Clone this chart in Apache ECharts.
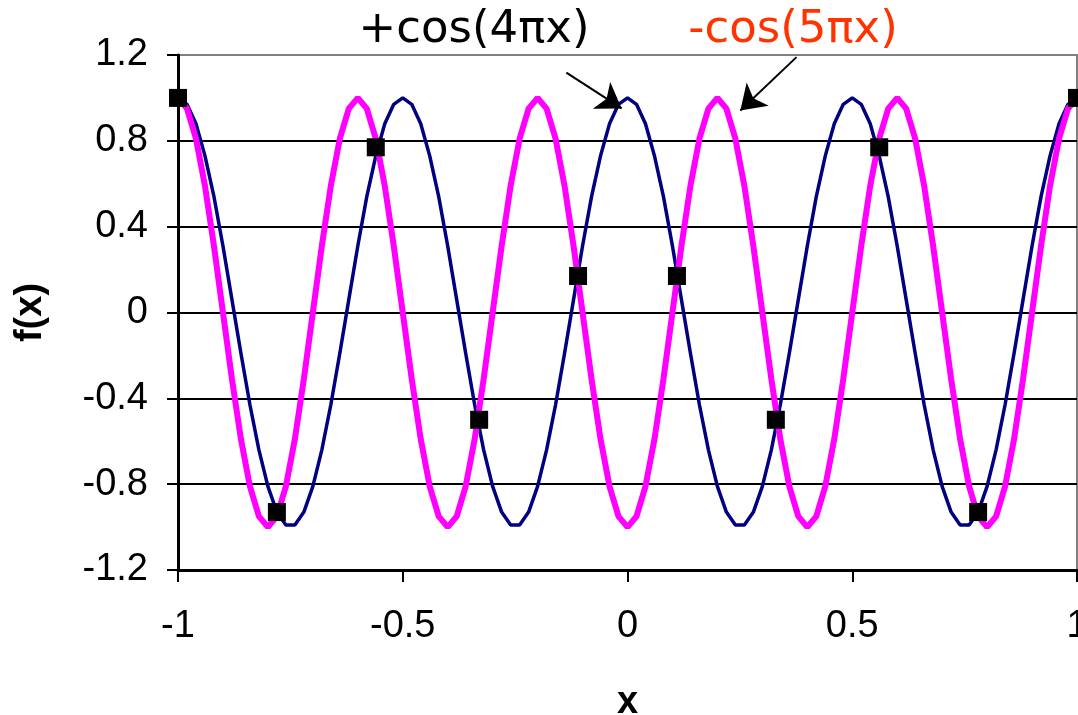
<!DOCTYPE html>
<html>
<head>
<meta charset="utf-8">
<script src="https://cdn.jsdelivr.net/npm/echarts@6/dist/echarts.min.js"></script>
<style>
  html, body { margin: 0; padding: 0; background: #fff; }
  #chart { width: 1078px; height: 715px; }
</style>
</head>
<body>
<div id="chart"></div>
<script>
// sample positions along x
const xs = [
  -1, -0.98, -0.96, -0.94, -0.92, -0.9, -0.88, -0.86, -0.84, -0.82,
  -0.8, -0.78, -0.76, -0.74, -0.72, -0.7, -0.68, -0.66, -0.64, -0.62,
  -0.6, -0.58, -0.56, -0.54, -0.52, -0.5, -0.48, -0.46, -0.44, -0.42,
  -0.4, -0.38, -0.36, -0.34, -0.32, -0.3, -0.28, -0.26, -0.24, -0.22,
  -0.2, -0.18, -0.16, -0.14, -0.12, -0.1, -0.08, -0.06, -0.04, -0.02,
  0, 0.02, 0.04, 0.06, 0.08, 0.1, 0.12, 0.14, 0.16, 0.18,
  0.2, 0.22, 0.24, 0.26, 0.28, 0.3, 0.32, 0.34, 0.36, 0.38,
  0.4, 0.42, 0.44, 0.46, 0.48, 0.5, 0.52, 0.54, 0.56, 0.58,
  0.6, 0.62, 0.64, 0.66, 0.68, 0.7, 0.72, 0.74, 0.76, 0.78,
  0.8, 0.82, 0.84, 0.86, 0.88, 0.9, 0.92, 0.94, 0.96, 0.98,
  1
];
// +cos(4πx), navy curve
const cos4Values = [
  1, 0.97, 0.88, 0.73, 0.54, 0.31, 0.06, -0.19, -0.43, -0.64,
  -0.81, -0.93, -0.99, -0.99, -0.93, -0.81, -0.64, -0.43, -0.19, 0.06,
  0.31, 0.54, 0.73, 0.88, 0.97, 1, 0.97, 0.88, 0.73, 0.54,
  0.31, 0.06, -0.19, -0.43, -0.64, -0.81, -0.93, -0.99, -0.99, -0.93,
  -0.81, -0.64, -0.43, -0.19, 0.06, 0.31, 0.54, 0.73, 0.88, 0.97,
  1, 0.97, 0.88, 0.73, 0.54, 0.31, 0.06, -0.19, -0.43, -0.64,
  -0.81, -0.93, -0.99, -0.99, -0.93, -0.81, -0.64, -0.43, -0.19, 0.06,
  0.31, 0.54, 0.73, 0.88, 0.97, 1, 0.97, 0.88, 0.73, 0.54,
  0.31, 0.06, -0.19, -0.43, -0.64, -0.81, -0.93, -0.99, -0.99, -0.93,
  -0.81, -0.64, -0.43, -0.19, 0.06, 0.31, 0.54, 0.73, 0.88, 0.97,
  1
];
// -cos(5πx), magenta curve
const cos5Values = [
  1, 0.95, 0.81, 0.59, 0.31, 0, -0.31, -0.59, -0.81, -0.95,
  -1, -0.95, -0.81, -0.59, -0.31, 0, 0.31, 0.59, 0.81, 0.95,
  1, 0.95, 0.81, 0.59, 0.31, 0, -0.31, -0.59, -0.81, -0.95,
  -1, -0.95, -0.81, -0.59, -0.31, 0, 0.31, 0.59, 0.81, 0.95,
  1, 0.95, 0.81, 0.59, 0.31, 0, -0.31, -0.59, -0.81, -0.95,
  -1, -0.95, -0.81, -0.59, -0.31, 0, 0.31, 0.59, 0.81, 0.95,
  1, 0.95, 0.81, 0.59, 0.31, 0, -0.31, -0.59, -0.81, -0.95,
  -1, -0.95, -0.81, -0.59, -0.31, 0, 0.31, 0.59, 0.81, 0.95,
  1, 0.95, 0.81, 0.59, 0.31, 0, -0.31, -0.59, -0.81, -0.95,
  -1, -0.95, -0.81, -0.59, -0.31, 0, 0.31, 0.59, 0.81, 0.95,
  1
];
// square markers where the two curves cross
const crossX = [-1, -0.78, -0.56, -0.33, -0.11, 0.11, 0.33, 0.56, 0.78, 1];
const crossY = [1, -0.93, 0.77, -0.5, 0.17, 0.17, -0.5, 0.77, -0.93, 1];
// axis ticks
const xTicks = [-1, -0.5, 0, 0.5, 1];
const yTicks = [-1.2, -0.8, -0.4, 0, 0.4, 0.8, 1.2];
// arrows: [from, to] in data units
const arrowCos4 = [[-0.136, 1.118], [-0.013, 0.951]];
const arrowCos5 = [[0.376, 1.19], [0.251, 0.941]];

const labelFont = "'Liberation Sans', Arial, sans-serif";

let myChart = echarts.init(document.getElementById('chart'));
let option = {
  animation: false,
  backgroundColor: '#fff',
  grid: {
    left: 178,
    right: 1,
    top: 55,
    bottom: 145,
    containLabel: false,
    outerBoundsMode: 'none',
    show: true,
    borderColor: '#808080',
    borderWidth: 2
  },
  xAxis: {
    type: 'value',
    min: xTicks[0],
    max: xTicks[xTicks.length - 1],
    interval: xTicks[1] - xTicks[0],
    name: 'x',
    nameLocation: 'middle',
    nameGap: 114,
    nameTextStyle: { fontFamily: labelFont, fontSize: 38, fontWeight: 'bold', color: '#000' },
    axisLine: { onZero: false, lineStyle: { color: '#000', width: 3 } },
    axisTick: { show: true, length: 12, lineStyle: { color: '#000', width: 2 } },
    axisLabel: { fontFamily: labelFont, fontSize: 38, color: '#000', margin: 38 },
    splitLine: { show: false }
  },
  yAxis: {
    type: 'value',
    min: yTicks[0],
    max: yTicks[yTicks.length - 1],
    interval: 0.4,
    name: 'f(x)',
    nameLocation: 'middle',
    nameGap: 128,
    nameTextStyle: { fontFamily: labelFont, fontSize: 38, fontWeight: 'bold', color: '#000' },
    axisLine: { onZero: false, lineStyle: { color: '#000', width: 3 } },
    axisTick: { show: true, length: 11, lineStyle: { color: '#000', width: 2 } },
    axisLabel: { fontFamily: labelFont, fontSize: 38, color: '#000', margin: 30 },
    splitLine: {
      show: true,
      lineStyle: { color: ['#000', '#000', '#000', '#000', '#000', '#000', '#808080'], width: 2 }
    }
  },
  series: [
    {
      name: '+cos(4πx)',
      type: 'line',
      data: xs.map((x, i) => [x, cos4Values[i]]),
      showSymbol: false,
      symbol: 'none',
      lineStyle: { color: '#000080', width: 3.5 },
      z: 2
    },
    {
      name: '-cos(5πx)',
      type: 'line',
      data: xs.map((x, i) => [x, cos5Values[i]]),
      showSymbol: false,
      symbol: 'none',
      lineStyle: { color: '#ff00ff', width: 6 },
      z: 3,
      markLine: {
        silent: true,
        symbol: ['none', 'arrow'],
        symbolSize: 24,
        label: { show: false },
        emphasis: { disabled: true },
        lineStyle: { color: '#000', width: 2, type: 'solid', opacity: 1 },
        itemStyle: { color: '#000' },
        data: [
          [{ coord: arrowCos4[0] }, { coord: arrowCos4[1] }],
          [{ coord: arrowCos5[0] }, { coord: arrowCos5[1] }]
        ]
      }
    },
    {
      name: 'cross',
      type: 'scatter',
      data: crossX.map((x, i) => [x, crossY[i]]),
      symbol: 'rect',
      symbolSize: 18,
      itemStyle: { color: '#000', opacity: 1 },
      z: 5
    }
  ],
  graphic: [
    {
      type: 'text',
      x: 474,
      y: 30,
      style: {
        text: '+cos(4πx)',
        font: "45px 'DejaVu Sans', sans-serif",
        fill: '#000',
        align: 'center',
        verticalAlign: 'middle'
      }
    },
    {
      type: 'text',
      x: 793,
      y: 30,
      style: {
        text: '-cos(5πx)',
        font: "45px 'DejaVu Sans', sans-serif",
        fill: '#ff3300',
        align: 'center',
        verticalAlign: 'middle'
      }
    }
  ]
};
myChart.setOption(option);
</script>
</body>
</html>
